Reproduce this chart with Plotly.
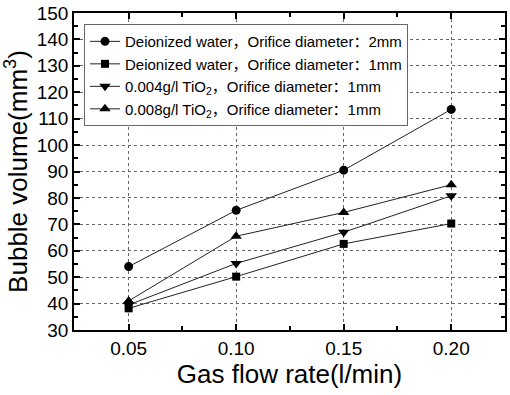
import plotly.graph_objects as go

flow_rate = [0.05, 0.10, 0.15, 0.20]
water_2mm = [54.0, 75.3, 90.5, 113.5]
water_1mm = [38.2, 50.2, 62.6, 70.3]
tio2_004_1mm = [39.5, 55.2, 67.0, 80.8]
tio2_008_1mm = [41.0, 65.5, 74.5, 85.0]

series = [
    ("Deionized water，Orifice diameter：2mm", water_2mm, "circle", 9),
    ("Deionized water，Orifice diameter：1mm", water_1mm, "square", 8),
    ("0.004g/l TiO<sub>2</sub>，Orifice diameter：1mm", tio2_004_1mm, "triangle-down", 10),
    ("0.008g/l TiO<sub>2</sub>，Orifice diameter：1mm", tio2_008_1mm, "triangle-up", 10),
]

fig = go.Figure()
for name, vals, sym, sz in series:
    fig.add_trace(go.Scatter(
        x=flow_rate, y=vals, name=name, mode="lines+markers",
        line=dict(color="#222222", width=1),
        marker=dict(symbol=sym, size=sz, color="black"),
    ))

axis_common = dict(
    showline=True, linecolor="black", linewidth=1.5, mirror="ticks",
    ticks="inside", ticklen=6, tickwidth=1.5, tickcolor="black",
    showgrid=True, gridcolor="#666666", griddash="dot", gridwidth=1,
    zeroline=False, automargin=False,
    tickfont=dict(family="Liberation Sans, Arial", size=19, color="black"),
)

fig.update_xaxes(
    range=[0.0246, 0.225], tick0=0.05, dtick=0.05, tickformat=".2f",
    minor=dict(ticks="inside", ticklen=4, tickcolor="black", tick0=0.025, dtick=0.025, showgrid=False),
    title=dict(text="Gas flow rate(l/min)", font=dict(family="Liberation Sans, Arial", size=26, color="black"), standoff=6),
    **axis_common,
)
fig.update_yaxes(
    range=[30, 150], tick0=30, dtick=10,
    minor=dict(ticks="inside", ticklen=4, tickcolor="black", tick0=30, dtick=5, showgrid=False),
    title=dict(text="Bubble volume(mm<sup>3</sup>)", font=dict(family="Liberation Sans, Arial", size=26, color="black"), standoff=4),
    **axis_common,
)

fig.update_layout(
    width=510, height=395,
    margin=dict(l=74, r=5, t=13, b=65),
    plot_bgcolor="white", paper_bgcolor="white",
    showlegend=True,
    legend=dict(
        x=0.0232, y=0.965, xanchor="left", yanchor="top",
        bgcolor="white", bordercolor="#666666", borderwidth=1,
        font=dict(family="Liberation Sans, Arial, Noto Sans CJK SC", size=15, color="black"),
        tracegroupgap=0, itemwidth=30,
    ),
)

# remove the browser's default 8px body margin so the figure fills the window
fig.write_html("out.html", config={"displayModeBar": False},
               post_script="document.body.style.margin='0px';")
